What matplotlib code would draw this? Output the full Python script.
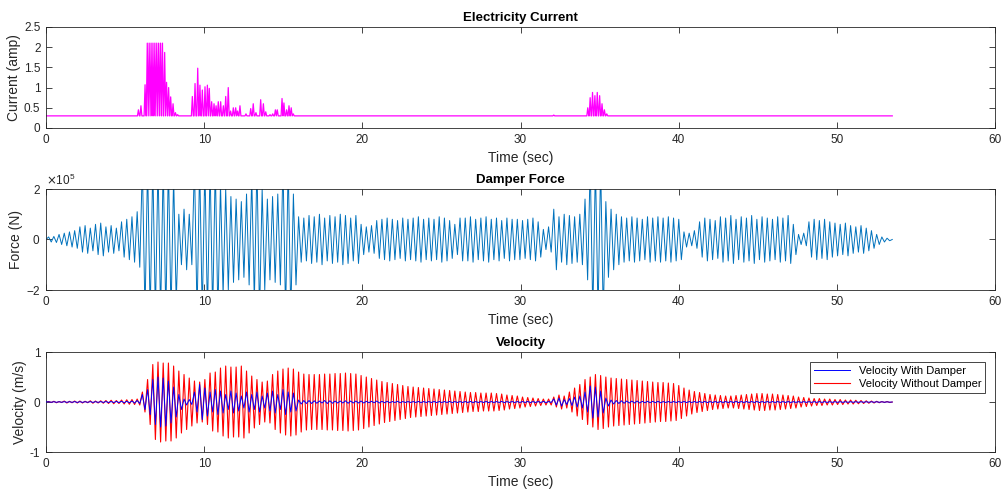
import matplotlib
matplotlib.use("Agg")
import matplotlib.pyplot as plt
from matplotlib.ticker import ScalarFormatter
import numpy as np

plt.rcParams['font.family'] = ['Liberation Sans', 'DejaVu Sans']
plt.rcParams['axes.unicode_minus'] = False

# --- data --------------------------------------------------------------
t_end = 53.5
current_base = 0.3

# current spikes (time [s], peak [amp])
current_t = [5.84, 6.0, 6.26, 6.4, 6.52, 6.64, 6.76, 6.88, 7.0, 7.12, 7.24, 7.36,
             7.5, 7.62, 7.75, 7.88, 8.03, 8.18, 8.32,
             9.25, 9.42, 9.59, 9.73, 9.88, 10.05, 10.2, 10.32, 10.47, 10.62, 10.75,
             10.89, 11.04, 11.21, 11.36, 11.52, 11.67, 11.84, 11.99, 12.11, 12.26,
             12.64, 12.94, 13.1, 13.27, 13.57, 13.74, 13.89, 14.16, 14.33, 14.5,
             14.62, 14.92, 15.04, 15.21, 15.36, 15.5, 15.63,
             32.1, 34.25, 34.4, 34.55, 34.7, 34.85, 35.0, 35.15, 35.3, 35.45]
current_peak = [0.45, 0.55, 1.07, 2.1, 2.1, 2.1, 2.1, 2.1, 2.1, 2.1, 2.1, 2.1,
                1.87, 1.13, 1.0, 0.77, 0.6, 0.38, 0.33,
                0.78, 1.1, 1.48, 1.06, 0.94, 1.02, 1.06, 0.98, 0.65, 0.6, 0.55,
                0.65, 0.65, 0.55, 0.78, 1.0, 0.42, 0.5, 0.5, 0.42, 0.55,
                0.35, 0.48, 0.6, 0.38, 0.7, 0.6, 0.4, 0.33, 0.35, 0.45,
                0.45, 0.73, 0.62, 0.45, 0.55, 0.5, 0.35,
                0.32, 0.5, 0.75, 0.88, 0.8, 0.88, 0.8, 0.6, 0.45, 0.35]

# damper force, peak amplitude of each cycle [x1e5 N] (values > 2 run off the axes)
force_amp = [0.1, 0.12, 0.2, 0.25, 0.3, 0.35, 0.5, 0.55, 0.45, 0.6,
             0.65, 0.5, 0.55, 0.45, 0.7, 0.8, 0.9, 1.1, 3.0, 3.0,
             3.0, 3.0, 3.0, 3.0, 2.5, 1.0, 1.2, 1.0, 3.0, 3.0,
             3.0, 3.0, 3.0, 2.2, 2.0, 1.7, 1.6, 1.5, 1.8, 2.5,
             3.0, 2.0, 1.6, 1.7, 1.8, 3.0, 3.0, 1.8, 0.9, 0.85,
             0.95, 0.9, 1.0, 0.85, 0.95, 0.9, 1.0, 0.95, 0.85, 0.95,
             0.6, 0.5, 0.55, 0.75, 0.8, 0.85, 0.8, 0.75, 0.85, 0.8,
             0.85, 0.9, 0.8, 0.85, 0.8, 0.9, 0.85, 0.75, 0.6, 0.85,
             0.85, 0.9, 0.8, 0.85, 0.9, 0.8, 0.85, 0.75, 0.85, 0.8,
             0.8, 0.75, 0.8, 0.85, 0.7, 0.4, 0.5, 1.2, 0.9, 1.0,
             0.95, 0.9, 1.0, 1.6, 3.0, 3.0, 3.0, 1.5, 1.2, 1.0,
             0.9, 0.85, 0.9, 0.85, 0.8, 0.9, 0.85, 0.9, 0.85, 0.9,
             0.85, 0.8, 0.3, 0.25, 0.35, 0.7, 0.85, 0.8, 0.75, 0.9,
             0.85, 0.95, 0.8, 0.9, 0.85, 0.95, 0.8, 0.9, 0.85, 0.8,
             0.9, 0.85, 0.95, 0.6, 0.2, 0.25, 0.7, 0.8, 0.75, 0.8,
             0.7, 0.65, 0.6, 0.65, 0.55, 0.5, 0.55, 0.45, 0.35, 0.2,
             0.1, 0.05]

# velocity, peak amplitude of each cycle [m/s]
vel_damper = [0.005, 0.006, 0.005, 0.007, 0.006, 0.008, 0.007, 0.006, 0.008, 0.007,
              0.008, 0.01, 0.01, 0.012, 0.015, 0.015, 0.02, 0.03, 0.15, 0.25,
              0.45, 0.5, 0.48, 0.42, 0.3, 0.15, 0.06, 0.05, 0.2, 0.35,
              0.28, 0.2, 0.25, 0.22, 0.15, 0.22, 0.18, 0.12, 0.2, 0.15,
              0.2, 0.12, 0.18, 0.22, 0.15, 0.25, 0.2, 0.18, 0.04, 0.03,
              0.03, 0.025, 0.02, 0.03, 0.025, 0.02, 0.02, 0.025, 0.02, 0.02,
              0.02, 0.015, 0.015, 0.02, 0.015, 0.015, 0.01, 0.015, 0.01, 0.01,
              0.01, 0.012, 0.01, 0.01, 0.012, 0.01, 0.01, 0.012, 0.01, 0.01,
              0.01, 0.012, 0.01, 0.01, 0.012, 0.01, 0.01, 0.012, 0.01, 0.01,
              0.01, 0.01, 0.012, 0.01, 0.01, 0.012, 0.01, 0.06, 0.08, 0.05,
              0.07, 0.1, 0.12, 0.2, 0.32, 0.3, 0.22, 0.08, 0.04, 0.03,
              0.025, 0.02, 0.02, 0.02, 0.015, 0.015, 0.015, 0.015, 0.01, 0.01,
              0.01, 0.01, 0.012, 0.01, 0.01, 0.01, 0.012, 0.01, 0.01, 0.01,
              0.01, 0.01, 0.012, 0.01, 0.01, 0.01, 0.012, 0.01, 0.01, 0.01,
              0.01, 0.01, 0.01, 0.008, 0.008, 0.008, 0.008, 0.008, 0.008, 0.008,
              0.007, 0.007, 0.007, 0.006, 0.006, 0.006, 0.005, 0.005, 0.005, 0.005,
              0.004, 0.003]
vel_no_damper = [0.01, 0.015, 0.01, 0.02, 0.015, 0.02, 0.02, 0.015, 0.025, 0.02,
                 0.025, 0.03, 0.035, 0.03, 0.04, 0.045, 0.05, 0.06, 0.2, 0.45,
                 0.75, 0.8, 0.78, 0.78, 0.72, 0.62, 0.55, 0.48, 0.42, 0.4,
                 0.45, 0.58, 0.6, 0.68, 0.72, 0.7, 0.7, 0.72, 0.62, 0.52,
                 0.45, 0.4, 0.42, 0.55, 0.62, 0.66, 0.68, 0.66, 0.6, 0.56,
                 0.55, 0.55, 0.55, 0.56, 0.56, 0.57, 0.57, 0.58, 0.57, 0.56,
                 0.53, 0.5, 0.47, 0.44, 0.41, 0.39, 0.37, 0.35, 0.33, 0.31,
                 0.3, 0.29, 0.28, 0.27, 0.26, 0.25, 0.24, 0.23, 0.22, 0.21,
                 0.2, 0.19, 0.19, 0.18, 0.18, 0.18, 0.17, 0.16, 0.14, 0.13,
                 0.12, 0.1, 0.09, 0.08, 0.07, 0.06, 0.06, 0.1, 0.14, 0.12,
                 0.2, 0.28, 0.35, 0.45, 0.5, 0.55, 0.53, 0.5, 0.48, 0.47,
                 0.46, 0.45, 0.44, 0.43, 0.42, 0.41, 0.4, 0.39, 0.39, 0.38,
                 0.37, 0.33, 0.28, 0.24, 0.21, 0.19, 0.17, 0.15, 0.14, 0.13,
                 0.12, 0.12, 0.13, 0.14, 0.15, 0.16, 0.17, 0.17, 0.16, 0.16,
                 0.15, 0.14, 0.13, 0.12, 0.1, 0.09, 0.08, 0.07, 0.07, 0.06,
                 0.06, 0.05, 0.05, 0.04, 0.04, 0.035, 0.03, 0.025, 0.02, 0.015,
                 0.01, 0.01]


def zigzag(amps, t_stop):
    # one +peak / -peak pair per cycle, spread over [0, t_stop]
    a = np.asarray(amps, dtype=float)
    vals = np.empty(2 * len(a))
    vals[0::2] = a
    vals[1::2] = -a
    y = np.concatenate([[0.0], vals, [0.0]])
    t = np.linspace(0, t_stop, len(y))
    return t, y


def spikes(times, peaks, base, t_stop, half=0.06):
    tx, ty = [0.0], [base]
    for t, p in zip(times, peaks):
        tx += [t - half, t, t + half]
        ty += [base, p, base]
    tx.append(t_stop)
    ty.append(base)
    return np.array(tx), np.array(ty)


def style_axes(ax, title, ylabel):
    ax.set_xlim(0, 60)
    ax.set_xticks(np.arange(0, 61, 10))
    ax.tick_params(direction='in', top=True, right=True, length=4, width=0.6,
                   labelsize=8.5, colors='0.15', pad=4)
    for s in ax.spines.values():
        s.set_color('0.15')
        s.set_linewidth(0.6)
    ax.set_title(title, fontsize=9.5, fontweight='bold', pad=4)
    ax.set_xlabel('Time (sec)', fontsize=10, color='0.15', labelpad=4)
    ax.set_ylabel(ylabel, fontsize=10, color='0.15', labelpad=2)


fig = plt.figure(figsize=(10.03, 4.94), dpi=100)
ax1 = fig.add_axes([0.0459, 0.7409, 0.9462, 0.2045])
ax2 = fig.add_axes([0.0459, 0.4130, 0.9462, 0.2045])
ax3 = fig.add_axes([0.0459, 0.0850, 0.9462, 0.2024])

# current
cx, cy = spikes(current_t, current_peak, current_base, t_end)
ax1.plot(cx, cy, color=(1, 0, 1), lw=0.9)
ax1.set_ylim(0, 2.5)
ax1.set_yticks(np.arange(0, 2.51, 0.5))
ax1.set_yticklabels(['0', '0.5', '1', '1.5', '2', '2.5'])
style_axes(ax1, 'Electricity Current', 'Current (amp)')

# damper force
fx, fy = zigzag(force_amp, t_end)
ax2.plot(fx, fy * 1e5, color='#0072BD', lw=0.7)
ax2.set_ylim(-2e5, 2e5)
ax2.set_yticks([-2e5, 0, 2e5])
fmt = ScalarFormatter(useMathText=True)
fmt.set_powerlimits((0, 0))
ax2.yaxis.set_major_formatter(fmt)
ax2.yaxis.get_offset_text().set_fontsize(8.5)
ax2.yaxis.get_offset_text().set_color('0.15')
style_axes(ax2, 'Damper Force', 'Force (N)')

# velocity
vx, vy_d = zigzag(vel_damper, t_end)
vx2, vy_n = zigzag(vel_no_damper, t_end)
l_red, = ax3.plot(vx2, vy_n, color=(1, 0, 0), lw=0.8, zorder=2)
l_blue, = ax3.plot(vx, vy_d, color=(0, 0, 1), lw=0.7, zorder=3)
ax3.set_ylim(-1, 1)
ax3.set_yticks([-1, 0, 1])
style_axes(ax3, 'Velocity', 'Velocity (m/s)')
leg = ax3.legend([l_blue, l_red], ['Velocity With Damper', 'Velocity Without Damper'],
                 loc='upper right', fontsize=8, fancybox=False, framealpha=1,
                 edgecolor='0.15', borderaxespad=0.9, handlelength=3.2,
                 labelspacing=0.25, borderpad=0.35)
leg.get_frame().set_linewidth(0.6)

fig.savefig('out.png', dpi=100, facecolor='white')
